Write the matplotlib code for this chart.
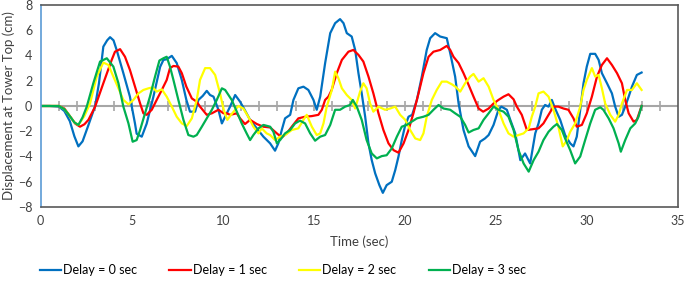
import matplotlib
matplotlib.use("Agg")
import matplotlib.pyplot as plt
import numpy as np

plt.rcParams['font.family'] = ['Lato', 'DejaVu Sans']

# (time, displacement) pairs
blue = np.array([
    (0, 0), (0.5, 0), (1.0, -0.05), (1.3, -0.4), (1.6, -1.2), (1.85, -2.4), (2.07, -3.2), (2.3, -2.8),
    (2.6, -1.6), (2.99, 0.0), (3.2, 1.8), (3.44, 4.7), (3.65, 5.2), (3.81, 5.45), (4.0, 5.2), (4.18, 4.4),
    (4.54, 2.6), (4.9, 0.74), (5.18, -1.4), (5.27, -2.2), (5.55, -2.43), (5.82, -1.4), (6.19, 0.74),
    (6.56, 3.1), (6.74, 3.65), (6.92, 3.7), (7.2, 3.97), (7.47, 3.4), (7.75, 2.06), (8.0, 0.48),
    (8.2, -0.45), (8.48, -0.45), (8.66, 0.48), (8.9, 0.8), (9.12, 1.2), (9.3, 0.87), (9.49, 0.74),
    (9.76, -0.3), (9.95, -1.38), (10.22, -0.58), (10.4, -0.05), (10.68, 0.87), (10.95, 0.34),
    (11.2, -0.3), (11.5, -1.1), (11.87, -1.77), (12.23, -2.43), (12.6, -2.96), (12.87, -3.54),
    (13.05, -2.96), (13.24, -1.9), (13.42, -0.98), (13.7, -0.7), (13.88, 0.48), (14.15, 1.4),
    (14.43, 1.53), (14.7, 1.27), (14.98, 0.48), (15.16, -0.3), (15.35, 0.74), (15.62, 3.39),
    (15.9, 5.77), (16.17, 6.56), (16.44, 6.88), (16.63, 6.56), (16.81, 5.77), (17.08, 5.5),
    (17.27, 4.44), (17.45, 2.6), (17.63, 1.0), (17.82, -0.85), (18.0, -2.96), (18.18, -4.29),
    (18.37, -5.34), (18.6, -6.27), (18.79, -6.88), (19.0, -6.27), (19.28, -6.0), (19.47, -5.08),
    (19.65, -4.0), (19.83, -2.7), (20.0, -1.64), (20.2, -0.85), (20.4, -0.7), (20.66, 0.48),
    (20.93, 2.33), (21.2, 4.44), (21.39, 5.37), (21.66, 5.77), (21.94, 5.5), (22.3, 5.37),
    (22.49, 4.18), (22.76, 2.33), (22.95, 0.2), (23.22, -1.9), (23.5, -3.2), (23.86, -3.97),
    (24.13, -2.83), (24.4, -2.57), (24.6, -2.3), (24.87, -1.5), (25.14, -0.3), (25.3, -0.05),
    (25.6, -0.3), (25.79, -1.1), (26.06, -2.17), (26.34, -4.29), (26.6, -3.76), (26.88, -4.55),
    (27.16, -2.17), (27.34, -1.38), (27.52, -0.3), (27.7, 0.08), (27.89, -0.05), (28.07, 0.48),
    (28.25, -0.2), (28.53, -1.1), (28.8, -2.3), (29.08, -2.96), (29.26, -3.2), (29.44, -2.43),
    (29.63, -0.3), (29.81, 1.8), (29.99, 3.12), (30.18, 4.13), (30.45, 4.13), (30.64, 3.65),
    (30.82, 2.6), (31.1, 1.8), (31.37, 1.0), (31.55, -0.05), (31.74, -0.85), (31.92, -0.7),
    (32.1, -0.05), (32.29, 0.74), (32.47, 1.53), (32.74, 2.46), (33.0, 2.65)])

red = np.array([
    (0, 0), (1.0, 0), (1.3, -0.2), (1.6, -0.8), (1.9, -1.4), (2.16, -1.64), (2.4, -1.45), (2.62, -1.1),
    (2.99, -0.05), (3.44, 1.8), (3.9, 3.65), (4.08, 4.3), (4.36, 4.5), (4.63, 3.9), (4.9, 2.86),
    (5.18, 1.53), (5.46, 0.2), (5.64, -0.58), (5.82, -0.7), (6.1, -0.3), (6.37, 0.48), (6.65, 1.27),
    (6.92, 2.06), (7.1, 3.0), (7.29, 3.17), (7.56, 3.12), (7.75, 2.6), (8.0, 1.53), (8.3, 0.6),
    (8.57, 0.34), (8.75, -0.05), (9.12, -0.7), (9.4, -0.58), (9.76, -0.3), (10.04, -0.58),
    (10.22, -0.58), (10.4, -0.7), (10.77, -0.58), (10.95, -0.98), (11.22, -1.43), (11.5, -1.1),
    (11.87, -1.43), (12.23, -1.64), (12.6, -1.7), (12.97, -2.17), (13.24, -2.49), (13.51, -2.17),
    (13.79, -1.64), (14.15, -0.98), (14.52, -0.85), (14.89, -0.8), (15.25, -0.7), (15.44, -0.3),
    (15.62, 0.48), (15.8, 0.74), (15.98, 1.27), (16.26, 2.6), (16.54, 3.65), (16.9, 4.3),
    (17.17, 4.44), (17.45, 4.05), (17.72, 3.52), (18.0, 2.33), (18.27, 1.0), (18.55, -0.58),
    (18.82, -1.9), (19.1, -2.96), (19.38, -3.5), (19.65, -3.7), (19.93, -2.96), (20.2, -1.9),
    (20.47, -0.58), (20.75, 1.0), (21.02, 2.6), (21.3, 3.9), (21.57, 4.3), (21.94, 4.44),
    (22.3, 4.76), (22.49, 4.44), (22.67, 3.9), (22.95, 3.4), (23.22, 2.6), (23.5, 1.67),
    (23.77, 0.74), (24.05, -0.2), (24.3, -0.45), (24.6, -0.2), (24.87, 0.2), (25.14, 0.48),
    (25.42, 0.74), (25.69, 0.93), (25.97, 0.53), (26.15, -0.05), (26.42, -0.7), (26.7, -1.9),
    (26.97, -1.85), (27.34, -1.77), (27.61, -1.38), (27.89, -0.7), (28.16, -0.05), (28.43, -0.05),
    (28.71, -0.2), (28.98, -0.3), (29.26, -0.98), (29.44, -1.64), (29.72, -1.5), (29.99, -0.58),
    (30.27, 0.74), (30.55, 2.33), (30.82, 3.25), (31.1, 3.78), (31.37, 3.25), (31.65, 2.6),
    (31.92, 1.8), (32.1, 0.48), (32.29, -0.58), (32.56, -1.24), (32.74, -1.1), (33.0, 0.0)])

yellow = np.array([
    (0, 0), (1.0, 0), (1.3, -0.25), (1.6, -0.8), (1.85, -1.3), (2.07, -1.5), (2.4, -0.8), (2.71, 0.2),
    (3.08, 2.33), (3.44, 3.44), (3.72, 3.25), (3.99, 2.33), (4.27, 1.4), (4.54, 0.48), (4.82, 0.13),
    (5.09, 0.48), (5.37, 1.0), (5.64, 1.27), (5.92, 1.4), (6.15, 1.48), (6.37, 1.14), (6.65, 1.32),
    (6.92, 0.74), (7.2, -0.05), (7.47, -0.85), (7.75, -1.38), (8.02, -1.59), (8.3, -0.98),
    (8.57, 0.48), (8.75, 2.06), (9.03, 3.0), (9.3, 3.0), (9.58, 2.46), (9.85, 1.0), (10.05, -0.3),
    (10.25, -1.1), (10.45, -0.7), (10.68, -0.3), (10.86, 0.0), (11.13, -0.2), (11.4, -0.85),
    (11.68, -1.64), (11.96, -2.17), (12.14, -1.77), (12.41, -2.17), (12.6, -2.3), (12.87, -2.7),
    (13.15, -2.43), (13.42, -2.3), (13.79, -1.9), (14.15, -1.77), (14.43, -1.1), (14.61, -0.7),
    (14.89, -1.64), (15.16, -2.3), (15.35, -2.17), (15.53, -1.38), (15.71, -0.05), (15.99, 1.27),
    (16.17, 2.72), (16.35, 2.2), (16.54, 1.4), (16.81, 0.87), (17.08, 0.48), (17.27, -0.2),
    (17.54, 1.14), (17.72, 1.8), (17.9, 1.4), (18.09, 0.2), (18.27, -0.45), (18.55, -0.05),
    (18.91, -0.3), (19.19, -0.2), (19.47, -0.05), (19.74, -0.7), (20.02, -1.1), (20.29, -1.9),
    (20.57, -2.57), (20.84, -2.7), (21.02, -2.17), (21.2, -0.85), (21.48, 0.48), (21.75, 1.27),
    (22.03, 1.93), (22.3, 1.93), (22.6, 1.7), (22.8, 1.5), (23.04, 1.14), (23.31, 1.8), (23.59, 2.33),
    (23.77, 2.54), (24.05, 1.93), (24.32, 2.2), (24.6, 1.53), (24.87, 0.48), (25.14, -0.3),
    (25.42, -1.38), (25.69, -2.17), (25.97, -2.43), (26.24, -2.3), (26.52, -2.17), (26.8, -1.77),
    (26.97, -0.85), (27.16, -0.05), (27.34, 1.0), (27.61, 1.14), (27.89, 0.74), (28.16, -0.3),
    (28.43, -1.64), (28.67, -3.2), (28.9, -2.7), (29.08, -2.04), (29.35, -1.38), (29.63, -0.05),
    (29.81, 1.27), (29.99, 2.06), (30.27, 3.0), (30.45, 2.33), (30.64, 2.46), (30.82, 1.4),
    (31.0, 0.2), (31.28, -0.7), (31.55, -1.24), (31.74, -0.7), (31.92, 0.2), (32.2, 1.27),
    (32.47, 1.27), (32.74, 1.8), (33.0, 1.27)])

green = np.array([
    (0, 0), (1.0, 0), (1.3, -0.25), (1.6, -0.8), (1.85, -1.3), (2.07, -1.5), (2.3, -0.9), (2.53, -0.05),
    (2.89, 1.8), (3.26, 3.52), (3.63, 3.78), (3.99, 3.12), (4.27, 1.8), (4.54, -0.05), (4.82, -1.38),
    (5.05, -2.83), (5.27, -2.7), (5.46, -1.9), (5.73, -0.58), (6.0, 0.74), (6.28, 2.33), (6.52, 3.6),
    (6.74, 3.78), (6.92, 3.9), (7.1, 3.12), (7.29, 2.06), (7.56, 0.48), (7.84, -1.1), (8.11, -2.3),
    (8.39, -2.43), (8.57, -2.3), (8.85, -1.64), (9.12, -0.98), (9.4, -0.3), (9.67, 0.48),
    (9.95, 1.4), (10.13, 1.27), (10.3, 0.9), (10.49, 0.48), (10.77, -0.45), (11.04, -1.38),
    (11.31, -2.17), (11.5, -2.7), (11.68, -2.3), (11.96, -1.77), (12.23, -1.5), (12.6, -1.64),
    (12.78, -2.04), (12.97, -2.96), (13.15, -2.7), (13.42, -2.17), (13.7, -1.9), (13.97, -1.38),
    (14.24, -1.16), (14.52, -1.38), (14.8, -2.17), (15.07, -2.75), (15.35, -2.43), (15.62, -2.3),
    (15.9, -1.5), (16.17, -0.3), (16.44, -0.3), (16.72, -0.05), (16.99, 0.08), (17.14, 0.48),
    (17.36, -0.05), (17.63, -1.1), (17.9, -2.7), (18.18, -3.76), (18.46, -4.15), (18.73, -3.97),
    (19.0, -3.9), (19.28, -3.36), (19.56, -2.43), (19.83, -1.64), (20.1, -1.5), (20.38, -1.24),
    (20.66, -0.98), (21.02, -0.85), (21.3, -0.7), (21.57, -0.3), (21.85, 0.08), (22.12, -0.2),
    (22.49, -0.3), (22.76, -0.58), (23.04, -0.85), (23.31, -1.5), (23.5, -2.1), (23.77, -1.9),
    (24.05, -1.77), (24.32, -1.1), (24.6, -0.58), (24.87, -0.05), (25.14, -0.3), (25.42, -0.45),
    (25.69, -0.85), (25.97, -1.9), (26.24, -3.5), (26.52, -4.55), (26.8, -5.2), (27.07, -4.29),
    (27.34, -3.62), (27.61, -2.7), (27.89, -2.04), (28.16, -1.64), (28.35, -1.43), (28.62, -1.9),
    (28.8, -2.57), (29.08, -3.5), (29.35, -4.55), (29.63, -4.0), (29.9, -2.7), (30.18, -1.38),
    (30.45, -0.3), (30.73, -0.1), (30.9, -0.3), (31.19, -0.98), (31.46, -1.77), (31.74, -2.96),
    (31.86, -3.62), (32.1, -2.7), (32.38, -1.77), (32.65, -1.38), (32.83, -0.85), (33.0, 0.0)])

labels = ["Delay = 0 sec", "Delay = 1 sec", "Delay = 2 sec", "Delay = 3 sec"]
colors = ["#0070C0", "#FF0000", "#FFFF00", "#00B050"]
minor_ticks = np.arange(1, 35)

fig = plt.figure(figsize=(6.85, 2.82), dpi=100)
ax = fig.add_axes([0.0594, 0.266, 0.9304, 0.7163])

# zero line with crossing tick marks (Excel style)
ax.axhline(0, color="#A6A6A6", lw=1.5, zorder=1)
ax.plot(minor_ticks, np.zeros(len(minor_ticks)), ls="none", marker="|", ms=7,
        mew=1.2, color="#A6A6A6", zorder=1)

for s, lab, c in zip([blue, red, yellow, green], labels, colors):
    ax.plot(s[:, 0], s[:, 1], color=c, lw=1.6, label=lab, zorder=2)

ax.set_xlim(0, 35)
ax.set_ylim(-8, 8)
ax.set_xticks(range(0, 36, 5))
ax.set_yticks(range(-8, 9, 2))
ax.tick_params(length=0, labelsize=9, colors="#404040", pad=6)
for side in ["top", "right", "bottom"]:
    ax.spines[side].set_color("#595959")
    ax.spines[side].set_linewidth(1.2)
ax.spines["left"].set_color("#5B9BD5")
ax.spines["left"].set_linewidth(1.2)

ax.set_xlabel("Time (sec)", fontsize=9.5, color="#404040", labelpad=6)
ax.set_ylabel("Displacement at Tower Top (cm)", fontsize=9.5, color="#404040", labelpad=2)

fig.legend(loc="center left", bbox_to_anchor=(0.058, 1 - 270 / 282), ncol=4, frameon=False,
           fontsize=9, handlelength=1.7, handletextpad=0.15, columnspacing=2.6,
           borderaxespad=0, borderpad=0)

fig.savefig("out.png", dpi=100)
